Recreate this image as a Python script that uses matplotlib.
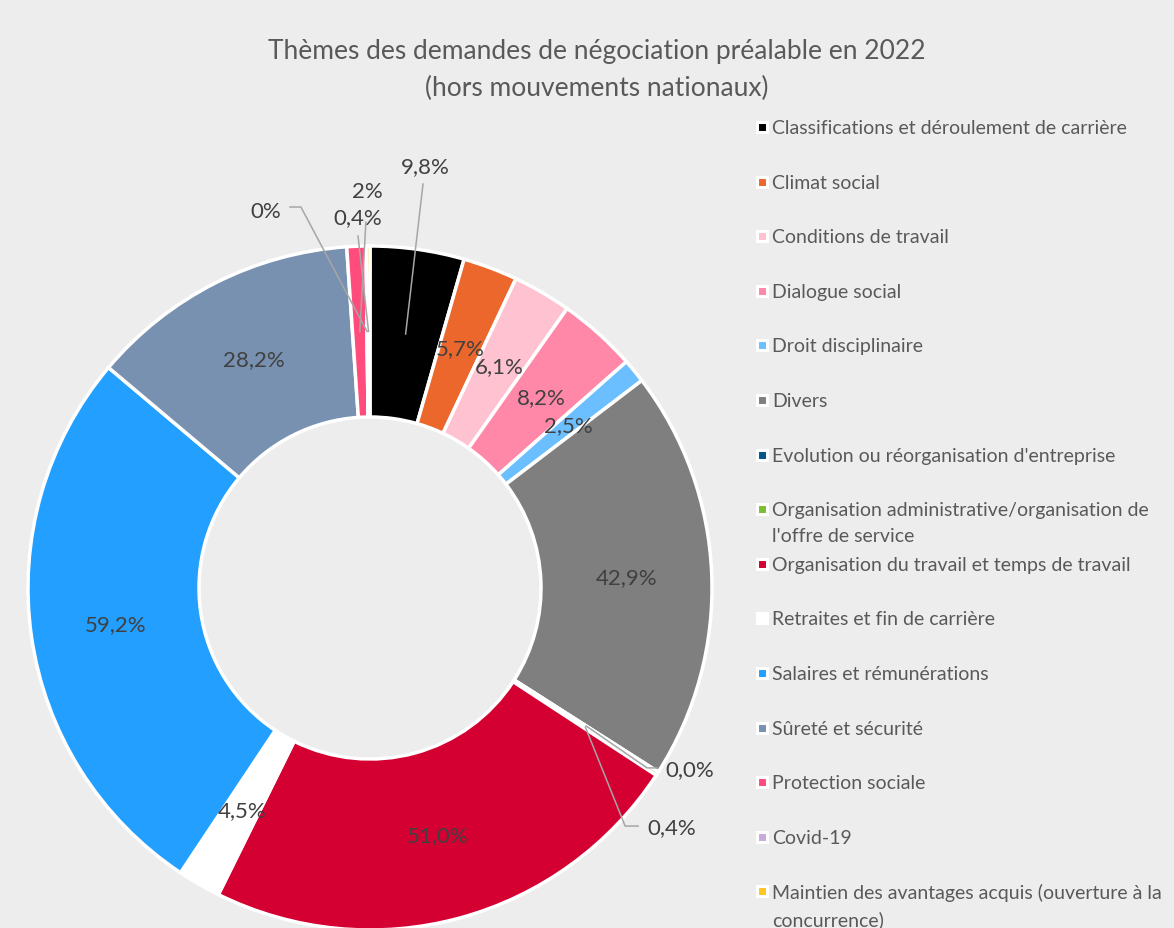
import matplotlib.pyplot as plt
from matplotlib.patches import Rectangle
import numpy as np

plt.rcParams['font.family'] = ['Lato', 'DejaVu Sans']

categories = [
    "Classifications et déroulement de carrière",
    "Climat social",
    "Conditions de travail",
    "Dialogue social",
    "Droit disciplinaire",
    "Divers",
    "Evolution ou réorganisation d'entreprise",
    "Organisation administrative/organisation de\nl'offre de service",
    "Organisation du travail et temps de travail",
    "Retraites et fin de carrière",
    "Salaires et rémunérations",
    "Sûreté et sécurité",
    "Protection sociale",
    "Covid-19",
    "Maintien des avantages acquis (ouverture à la\nconcurrence)",
]
values = [9.8, 5.7, 6.1, 8.2, 2.5, 42.9, 0.0, 0.4, 51.0, 4.5, 59.2, 28.2, 2.0, 0.0, 0.4]
value_labels = ["9,8%", "5,7%", "6,1%", "8,2%", "2,5%", "42,9%", "0,0%", "0,4%",
                "51,0%", "4,5%", "59,2%", "28,2%", "2%", "0%", "0,4%"]
colors = ["#000000", "#EC672C", "#FFC2D1", "#FF88A9", "#6CBFFF", "#7F7F7F", "#00558C",
          "#7CBD31", "#D50032", "#FFFFFF", "#229FFF", "#7891B1", "#FF4C7C", "#C8ABDB", "#FFC522"]

# outside labels: index -> (text pos, alignment, leader points from text side)
outside = {
    0: ((0.161, 1.234), "center", [(0.155, 1.181)]),
    12: ((-0.009, 1.161), "center", [(-0.012, 1.070)]),
    14: ((-0.035, 1.085), "center", [(-0.035, 1.029)]),
    13: ((-0.304, 1.102), "center", [(-0.234, 1.114), (-0.202, 1.114)]),
    6: ((0.863, -0.529), "left", [(0.839, -0.526), (0.810, -0.526)]),
    7: ((0.810, -0.699), "left", [(0.784, -0.696), (0.746, -0.696)]),
}

bg = "#EDEDED"
fig = plt.figure(figsize=(11.74, 9.29), dpi=100, facecolor=bg)
ax = fig.add_axes([28 / 1174, (929 - 589 - 342) / 929, 684 / 1174, 684 / 929])
ax.set_facecolor(bg)

wedges, _ = ax.pie(values, colors=colors, startangle=90, counterclock=False,
                   wedgeprops=dict(width=0.5, edgecolor="white", linewidth=2.5))
ax.set_xlim(-1, 1)
ax.set_ylim(-1, 1)
ax.set_aspect("equal")

label_color = "#404040"
for i, w in enumerate(wedges):
    mid = np.deg2rad((w.theta1 + w.theta2) / 2)
    tx, ty = 0.75 * np.cos(mid), 0.75 * np.sin(mid)
    if i in outside:
        (px, py), ha, pts = outside[i]
        xs = [p[0] for p in pts] + [tx]
        ys = [p[1] for p in pts] + [ty]
        ax.plot(xs, ys, color="#A6A6A6", lw=1.1, clip_on=False, zorder=5)
        ax.text(px, py, value_labels[i], ha=ha, va="center", fontsize=16,
                color=label_color, clip_on=False)
    else:
        ax.text(tx, ty, value_labels[i], ha="center", va="center", fontsize=16,
                color=label_color)

fig.text(597 / 1174, 1 - 70 / 929,
         "Thèmes des demandes de négociation préalable en 2022\n(hors mouvements nationaux)",
         ha="center", va="center", fontsize=19, color="#595959", linespacing=1.6)

# legend
y0 = 128
step = 54.6
for i, (cat, col) in enumerate(zip(categories, colors)):
    y = y0 + i * step
    fig.patches.append(Rectangle((757 / 1174, 1 - (y + 5) / 929), 10 / 1174, 10 / 929,
                                 transform=fig.transFigure, facecolor=col,
                                 edgecolor="white", linewidth=2.2))
    fig.text(772 / 1174, 1 - (y - 8) / 929, cat, ha="left", va="top", fontsize=14,
             color="#595959", linespacing=1.62)

fig.savefig("out.png", dpi=100, facecolor=bg)
